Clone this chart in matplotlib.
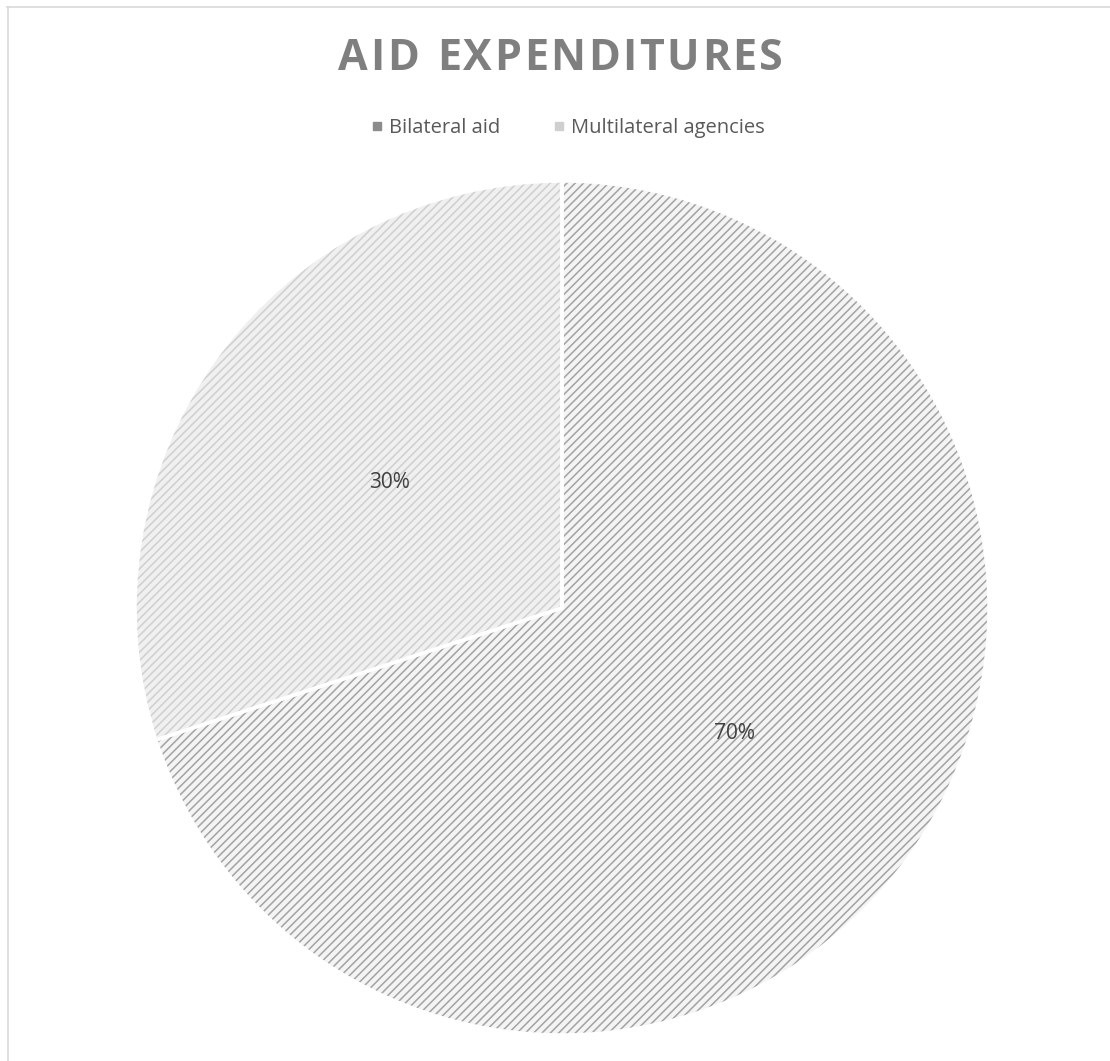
#!/usr/bin/env python3
"""Pie chart of aid expenditures: bilateral vs multilateral."""

import matplotlib
matplotlib.use("Agg")
import matplotlib.pyplot as plt
from matplotlib.lines import Line2D

labels = ["Bilateral aid", "Multilateral agencies"]
shares = [70, 30]
fill_colors = ["#f4f4f4", "#f0f0f0"]
hatch_colors = ["#a3a3a3", "#cfcfcf"]
title = "AID EXPENDITURES"

plt.rcParams["font.family"] = ["Open Sans", "DejaVu Sans"]
plt.rcParams["hatch.linewidth"] = 1.1

W, H = 1110, 1061
fig = plt.figure(figsize=(W / 100, H / 100), dpi=100)

# pie sits in a square box: x 135..989, y 181..1035 (pixels from top)
ax = fig.add_axes([135 / W, (H - 1035) / H, 854 / W, 854 / H])

wedges, texts, autotexts = ax.pie(
    shares, startangle=90, counterclock=False, autopct="%d%%",
    pctdistance=0.5, radius=1,
    wedgeprops=dict(linewidth=0, hatch="////"),
    textprops=dict(color="#404040", fontsize=15),
)
for w, fc, hc in zip(wedges, fill_colors, hatch_colors):
    w.set_facecolor(fc)
    w.set_edgecolor(hc)
    w.set_linewidth(0)

# white separators between slices
ax.pie(shares, startangle=90, counterclock=False, radius=1,
       wedgeprops=dict(fill=False, edgecolor="white", linewidth=2.5))
ax.set_xlim(-1.0, 1.0)
ax.set_ylim(-1.0, 1.0)
ax.set_aspect("equal")
ax.axis("off")

# title with wide letter spacing: place each letter by hand
renderer = fig.canvas.get_renderer()
chars = []
for ch in title:
    t = fig.text(0, 0, ch if ch != " " else "I", fontsize=31, fontweight="bold",
                 color="#7f7f7f", va="center", ha="left")
    wpx = t.get_window_extent(renderer).width
    if ch == " ":
        t.set_text(" ")
        wpx = wpx * 0.9
    chars.append((t, wpx))
left_px, right_px = 338, 783
gap = (right_px - left_px - sum(w for _, w in chars)) / (len(chars) - 1)
x = left_px
for t, wpx in chars:
    t.set_position((x / W, 1 - 58 / H))
    x += wpx + gap

# legend
handles = [Line2D([], [], marker="s", linestyle="none", markersize=6,
                  markerfacecolor=c, markeredgecolor=c)
           for c in ["#8c8c8c", "#cfcfcf"]]
fig.legend(handles, labels, loc="center", bbox_to_anchor=(566 / W, 1 - 128 / H),
           ncol=2, frameon=False, fontsize=14.5, labelcolor="#595959",
           handletextpad=0.1, columnspacing=2.4, handlelength=1.0)

# light chart border on top and left
fig.add_artist(Line2D([7 / W, 1], [1 - 6.5 / H, 1 - 6.5 / H], color="#d9d9d9",
                      linewidth=1.2, transform=fig.transFigure))
fig.add_artist(Line2D([7.5 / W, 7.5 / W], [0, 1 - 6.5 / H], color="#d9d9d9",
                      linewidth=1.2, transform=fig.transFigure))

fig.savefig("out.png", dpi=100, facecolor="white")
